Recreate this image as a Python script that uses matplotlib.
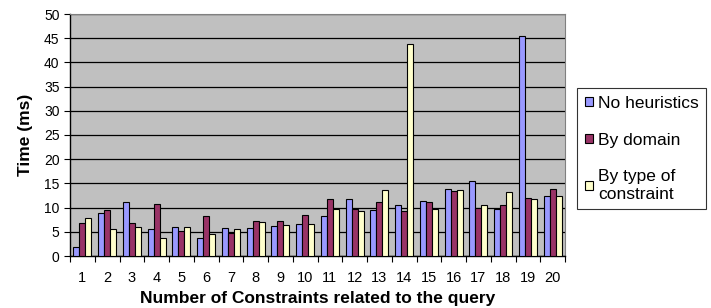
import matplotlib
matplotlib.use("Agg")
import matplotlib.pyplot as plt
import numpy as np

plt.rcParams['font.family'] = ['Liberation Sans', 'DejaVu Sans']

categories = [str(i) for i in range(1, 21)]
no_heuristics = [1.8, 8.8, 11.1, 5.5, 5.9, 3.8, 5.7, 5.7, 6.1, 6.6,
                 8.2, 11.8, 9.5, 10.5, 11.4, 13.8, 15.4, 9.7, 45.4, 12.3]
by_domain = [6.8, 9.5, 6.8, 10.7, 5.1, 8.2, 4.8, 7.3, 7.3, 8.4,
             11.8, 9.7, 11.2, 9.3, 11.2, 13.4, 10.0, 10.5, 11.9, 13.9]
by_type = [7.9, 5.6, 5.9, 3.8, 5.9, 4.5, 5.5, 7.0, 6.5, 6.7,
           9.7, 9.3, 13.6, 43.8, 9.7, 13.7, 10.5, 13.3, 11.7, 12.4]

series = [("No heuristics", no_heuristics, "#9999FF"),
          ("By domain", by_domain, "#993366"),
          ("By type of\nconstraint", by_type, "#FFFFCC")]

fig = plt.figure(figsize=(7.11, 3.08), dpi=100)
ax = fig.add_axes([70/711, 1-256/308, (565-70)/711, (256-14)/308])
ax.set_facecolor("#C0C0C0")

x = np.arange(len(categories))
w = 0.24
for i, (name, vals, col) in enumerate(series):
    ax.bar(x + (i-1)*w, vals, width=w, color=col, edgecolor="black",
           linewidth=0.8, label=name, zorder=3)

ax.set_xlim(-0.5, len(categories)-0.5)
ax.set_ylim(0, 50)
ax.set_yticks(np.arange(0, 51, 5))
ax.yaxis.grid(True, color="black", linewidth=0.9, zorder=1)
ax.set_axisbelow(True)

ax.set_xticks(x)
ax.set_xticklabels(categories, fontsize=10.5)
ax.set_xticks(np.arange(-0.5, len(categories)), minor=True)
ax.tick_params(axis='x', which='major', length=0, pad=11)
ax.tick_params(axis='x', which='minor', length=4, width=0.8, direction='out')
ax.tick_params(axis='y', length=4, width=0.8, direction='out', labelsize=10)

for s in ['top', 'right']:
    ax.spines[s].set_color('#808080')
for s in ['left', 'bottom']:
    ax.spines[s].set_color('black')
    ax.spines[s].set_linewidth(1.0)

ax.set_xlabel("Number of Constraints related to the query", fontsize=12.5,
              fontweight='bold', labelpad=4)
ax.set_ylabel("Time (ms)", fontsize=12.5, fontweight='bold', labelpad=8)

leg = fig.legend(loc='upper left', bbox_to_anchor=(577/711, 1-88/308),
                 frameon=True, fancybox=False, fontsize=12.5,
                 handlelength=0.45, handleheight=0.45, handletextpad=0.3,
                 labelspacing=1.25, borderpad=0.45, borderaxespad=0)
leg.get_frame().set_edgecolor("black")
leg.get_frame().set_linewidth(0.8)

fig.savefig("out.png", dpi=100)
